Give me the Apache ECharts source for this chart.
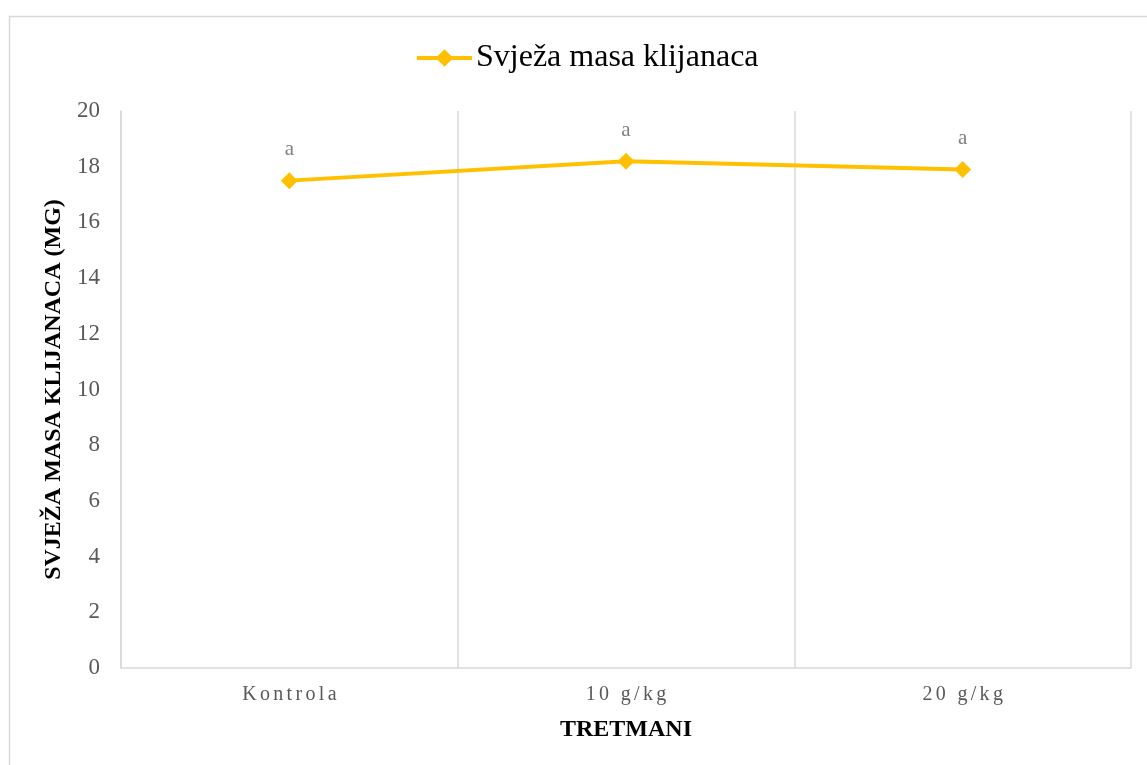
<!DOCTYPE html>
<html>
<head>
<meta charset="utf-8">
<script src="https://cdn.jsdelivr.net/npm/echarts@6/dist/echarts.min.js"></script>
<style>
html,body{margin:0;padding:0;background:#fff;}
#chart{width:1147px;height:765px;}
</style>
</head>
<body>
<div id="chart"></div>
<script>
const categories = ['Kontrola', '10 g/kg', '20 g/kg'];
const values = [17.5, 18.2, 17.9];
const pointLabels = ['a', 'a', 'a'];
const seriesName = 'Svježa masa klijanaca';
const yAxisTitle = 'SVJEŽA MASA KLIJANACA (MG)';
const xAxisTitle = 'TRETMANI';

const serif = '"Liberation Serif", "Times New Roman", serif';
const chart = echarts.init(document.getElementById('chart'));
const spaced = s => s.split('').join('\u2006');

chart.setOption({
  animation: false,
  graphic: [{
    type: 'rect', left: 7, top: 14, z: -1,
    shape: { width: 1160, height: 780 },
    style: { fill: 'none', stroke: '#d9d9d9', lineWidth: 1.5 }
  }],
  legend: {
    top: 37, left: 410,
    itemWidth: 55, itemHeight: 22,
    lineStyle: { width: 4, color: '#FFC000' },
    textStyle: { fontFamily: serif, fontSize: 32, color: '#000', padding: [0, 0, 0, -1] },
    data: [seriesName]
  },
  grid: { left: 121, right: 16, top: 111, bottom: 97 },
  xAxis: {
    type: 'category',
    data: categories,
    boundaryGap: true,
    axisLine: { show: true, lineStyle: { color: '#d9d9d9', width: 1.5 } },
    axisTick: { show: false },
    splitLine: { show: true, lineStyle: { color: '#d9d9d9', width: 1.5 } },
    axisLabel: {
      fontFamily: serif, fontSize: 20, color: '#595959', margin: 17,
      formatter: v => spaced(v)
    },
    name: xAxisTitle, nameLocation: 'middle', nameGap: 50,
    nameTextStyle: { fontFamily: serif, fontSize: 24, fontWeight: 'bold', color: '#000' }
  },
  yAxis: {
    type: 'value', min: 0, max: 20, interval: 2,
    axisLine: { show: true, lineStyle: { color: '#d9d9d9', width: 1.5 } },
    axisTick: { show: false },
    splitLine: { show: false },
    axisLabel: { fontFamily: serif, fontSize: 23, color: '#595959', margin: 21 },
    name: yAxisTitle, nameLocation: 'middle', nameGap: 53,
    nameTextStyle: { fontFamily: serif, fontSize: 24, fontWeight: 'bold', color: '#000' }
  },
  series: [{
    name: seriesName,
    type: 'line',
    data: values,
    symbol: 'diamond', symbolSize: 17,
    lineStyle: { color: '#FFC000', width: 4 },
    itemStyle: { color: '#FFC000' },
    label: {
      show: true, position: 'top', distance: 12,
      formatter: p => pointLabels[p.dataIndex],
      fontFamily: serif, fontSize: 21, color: '#7f7f7f'
    }
  }]
});
</script>
</body>
</html>
